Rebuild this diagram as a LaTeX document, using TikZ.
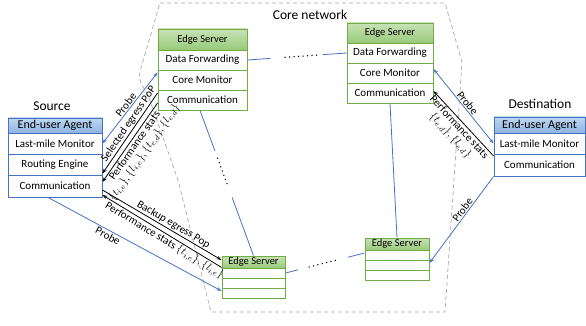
\documentclass[tikz,border=0pt]{standalone}
\usepackage{fontspec}
\setmainfont{Carlito}
\usetikzlibrary{arrows.meta,calc}
\definecolor{bblue}{RGB}{68,114,196}
\definecolor{ggreen}{RGB}{112,173,71}
\definecolor{bhtop}{RGB}{189,215,238}
\definecolor{bhbot}{RGB}{143,180,227}
\definecolor{ghtop}{RGB}{200,226,182}
\definecolor{ghbot}{RGB}{152,202,122}
\begin{document}
\begin{tikzpicture}[x=1pt,y=-1pt,
 box/.style={inner sep=0pt, line width=0.9pt, text=black},
 bcell/.style={box, draw=bblue, fill=white, font=\fontsize{11}{12}\selectfont},
 bhead/.style={box, draw=bblue, top color=bhtop, bottom color=bhbot, font=\fontsize{12}{13}\selectfont},
 gcell/.style={box, draw=ggreen, fill=white, font=\fontsize{11}{12}\selectfont},
 ghead/.style={box, draw=ggreen, top color=ghtop, bottom color=ghbot, font=\fontsize{10.5}{12}\selectfont},
 blueline/.style={draw=bblue, line width=0.8pt},
 blackline/.style={draw=black, line width=0.8pt},
 tip/.style={-{Stealth[length=5pt,width=3.5pt]}},
 twotip/.style={{Stealth[length=5pt,width=3.5pt]}-{Stealth[length=5pt,width=3.5pt]}},
 lbl/.style={font=\fontsize{11}{11.5}\selectfont, sloped, inner sep=1pt},
 dotsline/.style={line width=1.5pt, dash pattern=on 0pt off 4.5pt, line cap=round},
 core/.style={draw=black!35, dash pattern=on 4pt off 3pt, line width=0.7pt},
 title/.style={font=\fontsize{13.5}{15}\selectfont}
]
\useasboundingbox (0,0) rectangle (586,326);

% core network boundary
\draw[core] (160,3) -- (445,3) -- (462,62) -- (445,312) -- (211,312) -- (178,180) -- (148,95) .. controls (142,85) and (137,80) .. (141,68) -- cycle;
\node[title] (corelbl) at (310,15) {Core network};

% Source
\node[title] (srclbl) at (52,106) {Source};
\node[bhead, minimum width=94pt, minimum height=15pt] (srch) at (55,125.5) {End-user Agent};
\node[bcell, minimum width=94pt, minimum height=21pt] (src1) at (55,143.5) {Last-mile Monitor};
\node[bcell, minimum width=94pt, minimum height=21pt] (src2) at (55,164.5) {Routing Engine};
\node[bcell, minimum width=94pt, minimum height=22pt] (src3) at (55,186) {Communication};

% Destination
\node[title] (dstlbl) at (540,104) {Destination};
\node[bhead, minimum width=91pt, minimum height=16pt] (dh) at (539.5,125) {End-user Agent};
\node[bcell, minimum width=91pt, minimum height=21pt] (d1) at (539.5,143.5) {Last-mile Monitor};
\node[bcell, minimum width=91pt, minimum height=22pt] (d2) at (539.5,165) {Communication};

% Top-left edge server
\node[ghead, minimum width=89pt, minimum height=21pt] (tlh) at (202.5,39.5) {Edge Server};
\node[gcell, minimum width=89pt, minimum height=20pt] (tl1) at (202.5,60) {Data Forwarding};
\node[gcell, minimum width=89pt, minimum height=20pt] (tl2) at (202.5,80) {Core Monitor};
\node[gcell, minimum width=89pt, minimum height=20pt] (tl3) at (202.5,100) {Communication};

% Top-right edge server
\node[ghead, minimum width=86pt, minimum height=20pt] (trh) at (390,33) {Edge Server};
\node[gcell, minimum width=86pt, minimum height=20pt] (tr1) at (390,53) {Data Forwarding};
\node[gcell, minimum width=86pt, minimum height=20pt] (tr2) at (390,73) {Core Monitor};
\node[gcell, minimum width=86pt, minimum height=20pt] (tr3) at (390,93) {Communication};

% Bottom-left edge server
\node[ghead, minimum width=63pt, minimum height=12pt] (blh) at (253.5,262) {Edge Server};
\node[gcell, minimum width=63pt, minimum height=10pt] (bl1) at (253.5,273) {};
\node[gcell, minimum width=63pt, minimum height=10pt] (bl2) at (253.5,283) {};
\node[gcell, minimum width=63pt, minimum height=10pt] (bl3) at (253.5,293) {};

% Bottom-right edge server
\node[ghead, minimum width=64pt, minimum height=12pt] (brh) at (397,244) {Edge Server};
\node[gcell, minimum width=64pt, minimum height=10pt] (br1) at (397,255) {};
\node[gcell, minimum width=64pt, minimum height=10pt] (br2) at (397,265) {};
\node[gcell, minimum width=64pt, minimum height=10pt] (br3) at (397,275) {};

% source <-> top-left edge server
\draw[blueline, twotip] (src1.east) -- node[lbl, above, pos=0.5] {Probe} ([yshift=-2pt]tl1.south west);
\draw[blackline, tip] ([yshift=7pt]tl3.west) -- node[lbl, above, pos=0.43] {Selected egress PoP} ([yshift=1pt]src3.north east);
\draw[blackline, tip] ([yshift=-3pt]tl3.west) -- node[lbl, below, pos=0.5, align=center] {Performance stats\\$\{t_{i,e}\}, \{l_{i,e}\}, \{t_{e,d}\}, \{l_{e,d}\}$} ([yshift=4pt]src3.east);

% source <-> bottom-left edge server
\draw[blackline, tip] ([yshift=-4pt]src3.east) -- node[lbl, above, pos=0.57] {Backup egress Pop} ([yshift=2pt]blh.west);
\draw[blackline, tip] ([yshift=1pt]blh.south west) -- node[lbl, below, pos=0.45] {Performance stats $\{t_{i,e}\}, \{l_{i,e}\}$} ([yshift=-9pt]src3.east);
\draw[blueline, tip] ([xshift=-7pt]src3.south) -- node[lbl, below, pos=0.36] {Probe} ([yshift=2pt]bl3.west);

% destination links
\draw[blueline, twotip] ([yshift=4pt]tr2.east) -- node[lbl, above, pos=0.5] {Probe} (d1.west);
\draw[blackline, tip] ([yshift=9pt]d2.west) -- node[lbl, below, pos=0.5, align=center] {Performance stats\\$\{t_{e,d}\}, \{l_{e,d}\}$} ([yshift=2pt]tr3.east);
\draw[blueline, tip] (d2.south west) -- node[lbl, above, pos=0.42] {Probe} ([yshift=2pt]br2.east);

% core links
\coordinate (ha) at (tl1.east);
\coordinate (hb) at (tr1.west);
\draw[blueline] (ha) -- ($(ha)!0.23!(hb)$);
\draw[dotsline] ($(ha)!0.38!(hb)$) -- ($(ha)!0.72!(hb)$);
\draw[blueline] ($(ha)!0.76!(hb)$) -- (hb);

\coordinate (va) at ([xshift=-2.5pt]tl3.south);
\coordinate (vb) at (blh.north);
\draw[blueline] (va) -- ($(va)!0.28!(vb)$);
\draw[dotsline] ($(va)!0.33!(vb)$) -- ($(va)!0.52!(vb)$);
\draw[blueline] ($(va)!0.6!(vb)$) -- (vb);

\coordinate (ba) at (bl1.east);
\coordinate (bb) at ([yshift=2pt]br1.west);
\draw[blueline] (ba) -- ($(ba)!0.16!(bb)$);
\draw[dotsline] ($(ba)!0.3!(bb)$) -- ($(ba)!0.65!(bb)$);
\draw[blueline] ($(ba)!0.79!(bb)$) -- (bb);

\draw[blueline] (tr3.south) -- (brh.north);
\end{tikzpicture}
\end{document}
